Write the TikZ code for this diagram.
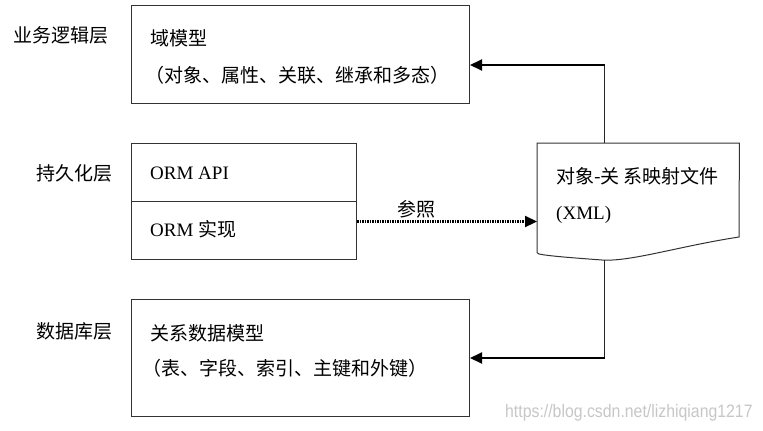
\documentclass[tikz,border=0pt]{standalone}
\usepackage{fontspec}
\setmainfont{Liberation Serif}
\newfontfamily\cjk{Noto Sans CJK SC}
\newfontfamily\wmfont{Liberation Sans}
\usetikzlibrary{arrows.meta}
\begin{document}
\begin{tikzpicture}[x=1pt,y=-1pt,
  box/.style={draw=black!80, line width=1pt, inner sep=0pt, anchor=north west},
  txt/.style={anchor=west, inner sep=0pt, font=\fontsize{19}{22}\selectfont\cjk},
  lat/.style={anchor=west, inner sep=0pt, font=\fontsize{19}{22}\selectfont},
  link/.style={line width=1pt, draw=black!85},
  arr/.style={line width=2pt, draw=black, -{Triangle[length=12pt,width=11pt]}},
  ]
\useasboundingbox[fill=white] (0,0) rectangle (763,431);

% boxes
\node[box, minimum width=338pt, minimum height=98pt] (biz) at (131,5) {};
\node[box, minimum width=225pt, minimum height=58pt] (orma) at (131,143) {};
\node[box, minimum width=225pt, minimum height=58pt] (ormi) at (131,201) {};
\node[box, minimum width=338pt, minimum height=117pt] (db) at (131,299) {};
\node[inner sep=0pt, anchor=north west, minimum width=202pt, minimum height=117pt] (doc) at (537,143) {};
\draw[line width=1pt, draw=black!80] (doc.north west) -- (doc.north east) -- (739,237)
  .. controls (680,246) and (630,262) .. (602,260)
  .. controls (575,258) and (548,256) .. (539,254)
  .. controls (537,253) .. (doc.north west |- 0,251) -- cycle;

% layer labels
\node[txt] (l1) at (13,35) {业务逻辑层};
\node[txt] (l2) at (36,173) {持久化层};
\node[txt] (l3) at (36,331) {数据库层};

% box texts
\node[txt] (t1) at (150,38) {域模型};
\node[txt] (t2) at (145,75) {（对象、属性、关联、继承和多态）};
\node[lat] (t3) at (150,173) {ORM API};
\node[lat] (t4) at (150,229) {ORM {\cjk 实现}};
\node[txt] (t5) at (150,333) {关系数据模型};
\node[txt] (t6) at (142,368) {（表、字段、索引、主键和外键）};
\node[txt] (t7) at (556,176) {对象-关\hspace{4pt}系映射文件};
\node[lat] (t8) at (556,215) {(XML)};

% connectors
\coordinate (c1) at (604,65);
\coordinate (c2) at (604,358);
\draw[link] (c1 |- doc.north) -- (c1);
\draw[arr] ([xshift=0.5pt]c1) -- (c1 -| biz.east);
\draw[link] (c2 |- doc.south) -- (c2);
\draw[arr] ([xshift=0.5pt]c2) -- (c2 -| db.east);

\coordinate (d1) at ([yshift=9pt]ormi.east);
\draw[line width=2.2pt, dash pattern=on 1.6pt off 0.9pt, -{Triangle[length=12pt,width=11pt]}] (d1) -- (d1 -| doc.west);
\node[txt, anchor=center] (ref) at (416,209) {参照};

% watermark
\node[inner sep=0pt, anchor=west, text=black!22, font=\fontsize{18}{20}\selectfont\wmfont, xscale=0.88] (wm) at (505,413) {https://blog.csdn.net/lizhiqiang1217};
\end{tikzpicture}
\end{document}
